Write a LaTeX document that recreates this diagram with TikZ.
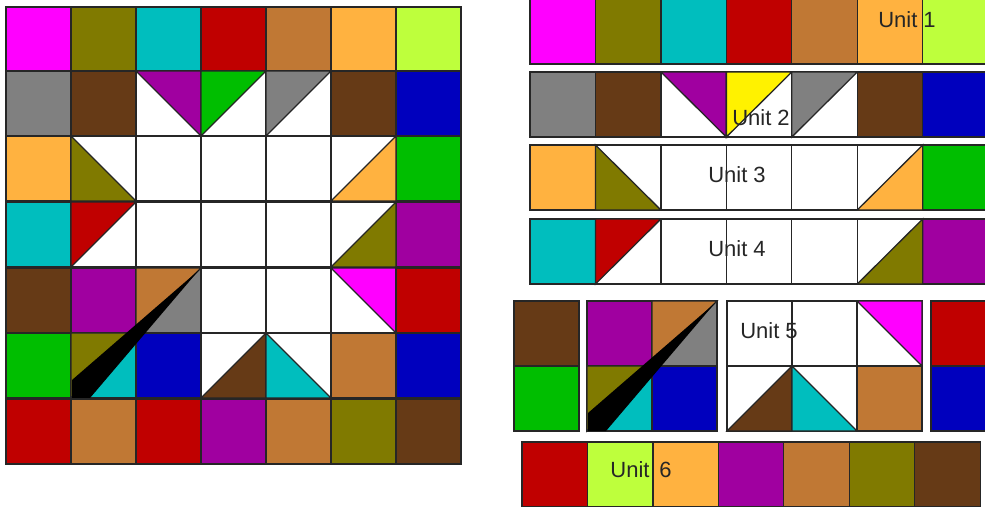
\documentclass[tikz,border=0pt]{standalone}
\usepackage{fontspec}
\setmainfont{Liberation Sans}
\definecolor{quiltmagenta}{RGB}{255,0,255}
\definecolor{quiltolive}{RGB}{128,122,0}
\definecolor{quiltteal}{RGB}{0,190,190}
\definecolor{quiltred}{RGB}{192,0,0}
\definecolor{quiltcopper}{RGB}{192,120,52}
\definecolor{quiltorange}{RGB}{255,178,64}
\definecolor{quiltlime}{RGB}{190,255,60}
\definecolor{quiltgray}{RGB}{128,128,128}
\definecolor{quiltbrown}{RGB}{102,58,22}
\definecolor{quiltblue}{RGB}{0,0,190}
\definecolor{quiltgreen}{RGB}{0,190,0}
\definecolor{quiltpurple}{RGB}{160,0,160}
% one patch and its four half-patches, #1,#2 = top left corner
\newcommand{\patch}[3]{\filldraw[cell, fill=#3] (#1,#2) rectangle ++(65,65);}
\newcommand{\halfNE}[3]{\filldraw[cell, fill=#3] (#1,#2) -- ++(65,0) -- ++(0,65) -- cycle;}
\newcommand{\halfNW}[3]{\filldraw[cell, fill=#3] (#1,#2) -- ++(65,0) -- ++(-65,65) -- cycle;}
\newcommand{\halfSW}[3]{\filldraw[cell, fill=#3] (#1,#2) -- ++(0,65) -- ++(65,0) -- cycle;}
\newcommand{\halfSE}[3]{\filldraw[cell, fill=#3] (#1,#2) ++(65,0) -- ++(0,65) -- ++(-65,0) -- cycle;}
% row of seven plain patches
\newcommand{\plainrow}[3]{\foreach \tint [count=\n from 0] in {#3} {\patch{#1+\n*65}{#2}{\tint}}}
% rows 2, 3 and 4 of the block, #3 = colour of the middle triangle in row 2
\newcommand{\rowtwo}[3]{
  \plainrow{#1}{#2}{quiltgray,quiltbrown,white,white,white,quiltbrown,quiltblue}
  \halfNE{#1+130}{#2}{quiltpurple}
  \halfNW{#1+195}{#2}{#3}
  \halfNW{#1+260}{#2}{quiltgray}
}
\newcommand{\rowthree}[2]{
  \plainrow{#1}{#2}{quiltorange,white,white,white,white,white,quiltgreen}
  \halfSW{#1+65}{#2}{quiltolive}
  \halfSE{#1+325}{#2}{quiltorange}
}
\newcommand{\rowfour}[2]{
  \plainrow{#1}{#2}{quiltteal,white,white,white,white,white,quiltpurple}
  \halfNW{#1+65}{#2}{quiltred}
  \halfSE{#1+325}{#2}{quiltolive}
}
% rows 5 and 6 in four pieces
\newcommand{\leftpair}[2]{
  \patch{#1}{#2}{quiltbrown}
  \patch{#1}{#2+65}{quiltgreen}
}
\newcommand{\wedgeblock}[2]{
  \patch{#1}{#2}{quiltpurple}
  \patch{#1+65}{#2}{quiltgray}
  \halfNW{#1+65}{#2}{quiltcopper}
  \patch{#1}{#2+65}{quiltteal}
  \halfNW{#1}{#2+65}{quiltolive}
  \patch{#1+65}{#2+65}{quiltblue}
  \fill[black] (#1+128,#2+2) -- (#1+1,#2+112) -- (#1+1,#2+130) -- (#1+19,#2+130) -- cycle;
}
\newcommand{\whiteblock}[2]{
  \patch{#1}{#2}{white}
  \patch{#1+65}{#2}{white}
  \patch{#1+130}{#2}{white}
  \halfNE{#1+130}{#2}{quiltmagenta}
  \patch{#1}{#2+65}{white}
  \halfSE{#1}{#2+65}{quiltbrown}
  \patch{#1+65}{#2+65}{white}
  \halfSW{#1+65}{#2+65}{quiltteal}
  \patch{#1+130}{#2+65}{quiltcopper}
}
\newcommand{\rightpair}[2]{
  \patch{#1}{#2}{quiltred}
  \patch{#1}{#2+65}{quiltblue}
}

\begin{document}
\begin{tikzpicture}[
  x=1pt, y=-1pt,
  cell/.style={draw=black!85, line width=1.3pt, line join=miter},
  stretched/.style={shift={(#1,0)}, xscale=1.007},
  unitlabel/.style={font=\fontsize{22}{24}\selectfont, text=black!85, inner sep=0pt}
]
  \useasboundingbox (0,0) rectangle (985,506);

  % whole block on the left
  \plainrow{6}{7}{quiltmagenta,quiltolive,quiltteal,quiltred,quiltcopper,quiltorange,quiltlime}
  \rowtwo{6}{71}{quiltgreen}
  \rowthree{6}{136}
  \rowfour{6}{202}
  \leftpair{6}{268}
  \wedgeblock{71}{268}
  \whiteblock{201}{268}
  \rightpair{396}{268}
  \plainrow{6}{399}{quiltred,quiltcopper,quiltred,quiltpurple,quiltcopper,quiltolive,quiltbrown}

  % the same block cut into units
  \begin{scope}[stretched=530]
    \plainrow{0}{-1}{quiltmagenta,quiltolive,quiltteal,quiltred,quiltcopper,quiltorange,quiltlime}
    \rowtwo{0}{72}{yellow}
    \rowthree{0}{145}
    \rowfour{0}{219}
  \end{scope}
  \leftpair{514}{301}
  \wedgeblock{587}{301}
  \whiteblock{727}{301}
  \rightpair{931}{301}
  \begin{scope}[stretched=522]
    \plainrow{0}{442}{quiltred,quiltlime,quiltorange,quiltpurple,quiltcopper,quiltolive,quiltbrown}
  \end{scope}

  \node[unitlabel] (unit1) at (907,20)  {Unit 1};
  \node[unitlabel] (unit2) at (761,118) {Unit 2};
  \node[unitlabel] (unit3) at (737,175) {Unit 3};
  \node[unitlabel] (unit4) at (737,249) {Unit 4};
  \node[unitlabel] (unit5) at (769,331) {Unit 5};
  \node[unitlabel] (unit6) at (641,470) {Unit\, 6};
\end{tikzpicture}
\end{document}
